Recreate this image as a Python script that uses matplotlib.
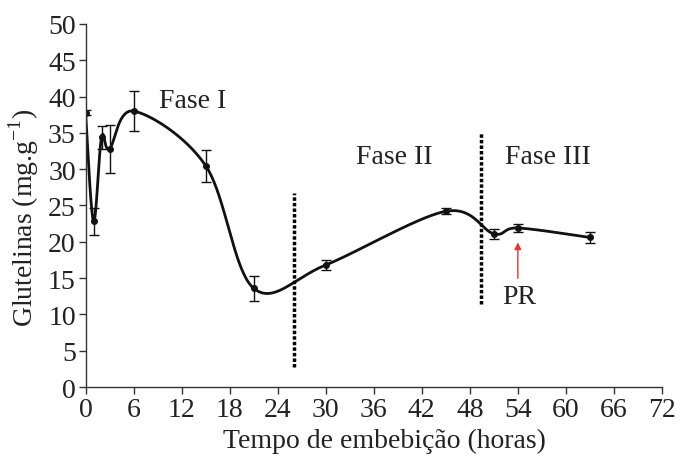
import numpy as np
import matplotlib
matplotlib.use('Agg')
import matplotlib.pyplot as plt

plt.rcParams['font.family'] = ['Liberation Serif', 'DejaVu Serif']
plt.rcParams['mathtext.fontset'] = 'custom'
plt.rcParams['mathtext.rm'] = 'Liberation Serif'

# tempo de embebicao (h) e teor de glutelinas (mg.g-1)
horas = [0, 1, 2, 3, 6, 15, 21, 30, 45, 51, 54, 63]
glutelinas = [37.8, 22.8, 34.4, 32.8, 38.0, 30.5, 13.6, 16.8, 24.2, 21.1, 21.9, 20.6]
erro = [0.3, 1.9, 1.6, 3.3, 2.8, 2.2, 1.7, 0.7, 0.4, 0.7, 0.6, 0.7]

fases_x = [26, 49.4]
fases_ymin = [2.8, 11.4]
fases_ymax = [26.7, 35.0]


def smooth(xs, ys, n=40):
  # curva suavizada tipo excel (bezier catmull-rom)
  xs = np.asarray(xs, float)
  ys = np.asarray(ys, float)
  px = np.concatenate([[xs[0]], xs, [xs[-1]]])
  py = np.concatenate([[ys[0]], ys, [ys[-1]]])
  outx, outy = [], []
  t = np.linspace(0, 1, n)
  for i in range(1, len(px) - 2):
    p0 = np.array([px[i], py[i]])
    p3 = np.array([px[i + 1], py[i + 1]])
    p1 = p0 + (np.array([px[i + 1], py[i + 1]]) - np.array([px[i - 1], py[i - 1]])) / 6
    p2 = p3 - (np.array([px[i + 2], py[i + 2]]) - np.array([px[i], py[i]])) / 6
    b = ((1 - t) ** 3)[:, None] * p0 + (3 * (1 - t) ** 2 * t)[:, None] * p1 \
        + (3 * (1 - t) * t ** 2)[:, None] * p2 + (t ** 3)[:, None] * p3
    outx.extend(b[:, 0])
    outy.extend(b[:, 1])
  return outx, outy


fig = plt.figure(figsize=(6.81, 4.6), dpi=100)
ax = fig.add_axes([0.1256, 0.1565, 0.8464, 0.7892])

cx, cy = smooth(horas, glutelinas)
ax.plot(cx, cy, color='#111111', lw=2)
ax.errorbar(horas, glutelinas, yerr=erro, fmt='o', color='#111111', ms=4,
            elinewidth=1, capsize=3.5, capthick=1)

for x, y0, y1 in zip(fases_x, fases_ymin, fases_ymax):
  ax.plot([x, x], [y0, y1], color='black', lw=2.5, linestyle=(0, (1, 0.6)))

ax.text(13.4, 39.4, 'Fase I', fontsize=20, ha='center', va='center', color='#222222')
ax.text(38.6, 31.8, 'Fase II', fontsize=20, ha='center', va='center', color='#222222')
ax.text(57.8, 31.8, 'Fase III', fontsize=20, ha='center', va='center', color='#222222')
ax.text(54.2, 12.4, 'PR', fontsize=20, ha='center', va='center', color='#222222')
ax.annotate('', xy=(54, 20.3), xytext=(54, 14.6),
            arrowprops=dict(arrowstyle='-|>', color='#ee3333', lw=1, mutation_scale=10))

ax.set_xlim(0, 72)
ax.set_ylim(0, 50)
ax.set_xticks(range(0, 73, 6))
ax.set_yticks(range(0, 51, 5))
ax.spines['top'].set_visible(False)
ax.spines['right'].set_visible(False)
for s in ['left', 'bottom']:
  ax.spines[s].set_color('#333333')
  ax.spines[s].set_linewidth(1)
ax.tick_params(direction='out', length=5, width=1, color='#333333',
               labelsize=20, labelcolor='#222222', pad=2)
ax.set_xlabel('Tempo de embebição (horas)', fontsize=20, color='#222222')
ax.set_ylabel('Glutelinas (mg.g$^{-1}$)', fontsize=20, color='#222222')
ax.xaxis.set_label_coords(0.518, -0.113)
ax.yaxis.set_label_coords(-0.077, 0.468)

plt.savefig('out.png', dpi=100)
